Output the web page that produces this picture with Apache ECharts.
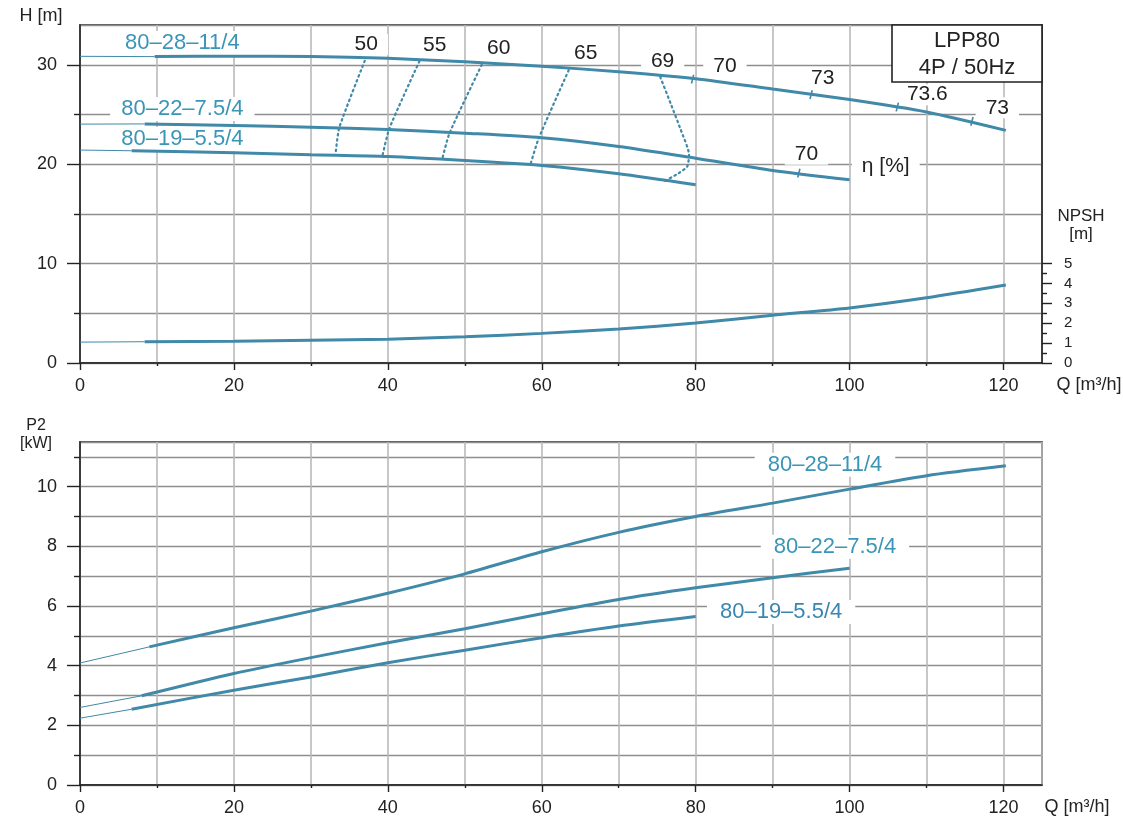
<!DOCTYPE html>
<html><head><meta charset="utf-8">
<script src="https://cdn.jsdelivr.net/npm/echarts@6/dist/echarts.min.js"></script>
<style>html,body{margin:0;padding:0;background:#fff}#c{width:1123px;height:822px}</style>
</head><body><div id="c"></div>
<script>
// ---------------- DATA ----------------
const MODELS = ['80–28–11/4', '80–22–7.5/4', '80–19–5.5/4'];
// Head curves H [m] vs Q [m3/h]  (first segment = thin extension)
const H28_Q = [0, 9.7, 20, 30, 40, 50, 60, 70, 80, 90, 100, 110, 120.3];
const H28   = [30.85, 30.82, 30.86, 30.83, 30.65, 30.3, 29.85, 29.3, 28.6, 27.56, 26.5, 25.25, 23.4];
const H22_Q = [0, 8.4, 20, 30, 40, 50, 60, 70, 80, 90, 100];
const H22   = [24.03, 24.05, 23.9, 23.72, 23.5, 23.12, 22.66, 21.78, 20.6, 19.37, 18.43];
const H19_Q = [0, 6.7, 20, 30, 40, 50, 60, 70, 80];
const H19   = [21.42, 21.35, 21.15, 20.95, 20.77, 20.37, 19.87, 19.03, 17.93];
// NPSH [m]
const NPSH_Q = [0, 8.4, 20, 30, 40, 50, 60, 70, 80, 90, 100, 110, 120.3];
const NPSH   = [1.05, 1.07, 1.1, 1.14, 1.2, 1.32, 1.49, 1.71, 2.01, 2.4, 2.77, 3.28, 3.92];
// Power P2 [kW]
const P28_Q = [0, 9.0, 20, 30, 40, 50, 60, 70, 80, 90, 100, 110, 120.3];
const P28   = [4.09, 4.63, 5.27, 5.83, 6.43, 7.08, 7.82, 8.47, 9.0, 9.45, 9.92, 10.37, 10.70];
const P22_Q = [0, 8.0, 20, 30, 40, 50, 60, 70, 80, 90, 100];
const P22   = [2.6, 2.99, 3.74, 4.27, 4.77, 5.24, 5.74, 6.22, 6.61, 6.95, 7.27];
const P19_Q = [0, 6.7, 20, 30, 40, 50, 60, 70, 80];
const P19   = [2.24, 2.54, 3.18, 3.62, 4.1, 4.52, 4.94, 5.33, 5.65];
// Efficiency iso-lines [Q, H]
const ETA50 = [[37.0, 30.4], [33.7, 23.7], [33.2, 21.0]];
const ETA55 = [[44.1, 30.35], [40.2, 23.6], [39.3, 20.85]];
const ETA60 = [[52.2, 30.0], [48.0, 23.1], [47.1, 20.6]];
const ETA65 = [[63.5, 29.45], [59.6, 22.6], [58.5, 19.9]];
const ETA69 = [[75.4, 28.77], [76.8, 26.0], [78.06, 23.46], [79.14, 20.95], [78.9, 19.77], [77.8, 19.1], [75.9, 18.26]];
// Efficiency marks on curves [Q, H]
const ETA_MARKS = [[79.6, 28.55], [95.0, 27.0], [106.2, 25.75], [115.9, 24.3], [93.4, 19.1]];
const ETA_TEXT = ['50', '55', '60', '65', '69', '70', '73', '73.6', '73', '70', 'η [%]'];
// Tick labels
const Q_TICKS = [0, 20, 40, 60, 80, 100, 120];
const Q_MINOR = [10, 30, 50, 70, 90, 110];
const H_TICKS = [0, 10, 20, 30];
const H_MINOR = [5, 15, 25];
const NPSH_TICKS = [0, 1, 2, 3, 4, 5];
const NPSH_MINOR = [0.5, 1.5, 2.5, 3.5, 4.5];
const P_TICKS = [0, 2, 4, 6, 8, 10];
const P_MINOR = [1, 3, 5, 7, 9, 11];

// ---------------- STYLE ----------------
const FONT = 'Liberation Sans';
const LINE = '#4089a8';
const TEAL_TXT = '#3a95b6';
const TXT = '#222';
const QMAX = 125, HMAX = 34, PMAX = 11.5;

function gridX(gi) {
  return { type: 'value', gridIndex: gi, position: 'bottom', min: 0, max: QMAX, interval: 10,
    axisLine: { show: false }, axisTick: { show: false }, axisLabel: { show: false },
    splitLine: { show: true, lineStyle: { color: '#b9b9b9', width: 1.6 } } };
}
function gridY(gi, max, step) {
  return { type: 'value', gridIndex: gi, position: 'left', min: 0, max: max, interval: step,
    axisLine: { show: false }, axisTick: { show: false }, axisLabel: { show: false },
    splitLine: { show: true, lineStyle: { color: '#8e8e8e', width: 1.3 } } };
}
function tickAxis(pos, gi, max, vals, len, labels, margin, size) {
  return { type: 'value', gridIndex: gi, position: pos, offset: 0, min: 0, max: max,
    axisLine: { show: !!labels, onZero: false, lineStyle: { color: '#222', width: 1.6 } },
    axisTick: { show: true, customValues: vals, length: len, lineStyle: { color: '#222', width: 1.4 } },
    axisLabel: labels ? { show: true, customValues: labels, margin: margin, fontFamily: FONT, fontSize: size || 18, color: TXT } : { show: false },
    splitLine: { show: false } };
}

const xAxis = [
  gridX(0),
  tickAxis('bottom', 0, QMAX, Q_TICKS, 7, Q_TICKS, 14),
  tickAxis('bottom', 0, QMAX, Q_MINOR, 3, null),
  gridX(1),
  tickAxis('bottom', 1, QMAX, Q_TICKS, 7, Q_TICKS, 14),
  tickAxis('bottom', 1, QMAX, Q_MINOR, 3, null)
];
const yAxis = [
  gridY(0, HMAX, 5),                                          // 0
  tickAxis('left', 0, HMAX, H_TICKS, 13, H_TICKS, 23),        // 1
  tickAxis('left', 0, HMAX, H_MINOR, 6, null),                // 2
  tickAxis('right', 0, HMAX / 2, NPSH_TICKS, 10, NPSH_TICKS, 22, 15), // 3
  tickAxis('right', 0, HMAX / 2, NPSH_MINOR, 5, null),        // 4
  gridY(1, PMAX, 1),                                          // 5
  tickAxis('left', 1, PMAX, P_TICKS, 13, P_TICKS, 23),        // 6
  tickAxis('left', 1, PMAX, P_MINOR, 6, null)                 // 7
];

function zip(q, v) { return q.map((x, i) => [x, v[i]]); }
function curve(q, v, xi, yi) {
  const pts = zip(q, v);
  return [
    { type: 'line', xAxisIndex: xi, yAxisIndex: yi, data: pts.slice(0, 2), symbol: 'none', silent: true, z: 4,
      lineStyle: { color: LINE, width: 1 } },
    { type: 'line', xAxisIndex: xi, yAxisIndex: yi, data: pts.slice(1), symbol: 'none', silent: true, z: 4, smooth: 0.25,
      lineStyle: { color: LINE, width: 3 } }
  ];
}
function dotted(pts) {
  return { type: 'line', xAxisIndex: 0, yAxisIndex: 0, data: pts, symbol: 'none', silent: true, z: 3, smooth: 0.2,
    lineStyle: { color: LINE, width: 2.2, type: [1.6, 3.6], cap: 'round' } };
}
function textSeries(xi, yi, items, color, size, pad) {
  return { type: 'scatter', xAxisIndex: xi, yAxisIndex: yi, symbolSize: 0, silent: true, z: 2,
    itemStyle: { opacity: 1 },
    data: items.map(it => ({ value: it[1], name: it[0] })),
    label: { show: true, position: 'inside', formatter: '{b}', fontFamily: FONT, fontSize: size, opacity: 1,
      color: color, backgroundColor: '#fff', padding: pad } };
}

// annotation anchors (data coordinates)
const etaAnchors = [[37.2, 32.04], [46.1, 31.97], [54.4, 31.65], [65.7, 31.2], [75.7, 30.4], [83.8, 29.9],
  [96.5, 28.67], [110.1, 26.99], [119.2, 25.68], [94.4, 21.0], [104.7, 19.84]];

const series = [
  textSeries(0, 0, [[MODELS[0], [13.3, 32.2]], [MODELS[1], [13.3, 25.56]], [MODELS[2], [13.3, 22.54]]], TEAL_TXT, 22, [1, 11]),
  textSeries(0, 0, ETA_TEXT.map((t, i) => [t, etaAnchors[i]]), TXT, 21, [0, 10]),
  textSeries(3, 5, [[MODELS[0], [96.8, 10.74]], [MODELS[1], [98.1, 7.99]]], TEAL_TXT, 22, [1, 13]),
  textSeries(3, 5, [[MODELS[2], [91.1, 5.8]]], '#3a86b0', 22, [1, 13]),
  ...curve(H28_Q, H28, 0, 0),
  ...curve(H22_Q, H22, 0, 0),
  ...curve(H19_Q, H19, 0, 0),
  ...curve(NPSH_Q, NPSH, 0, 3),
  ...curve(P28_Q, P28, 3, 5),
  ...curve(P22_Q, P22, 3, 5),
  ...curve(P19_Q, P19, 3, 5),
  dotted(ETA50), dotted(ETA55), dotted(ETA60), dotted(ETA65), dotted(ETA69),
  { type: 'scatter', xAxisIndex: 0, yAxisIndex: 0, data: ETA_MARKS, symbol: 'rect', symbolSize: [1.6, 9],
    symbolRotate: -14, silent: true, z: 5, itemStyle: { color: LINE, opacity: 1 } }
];

const txt = (x, y, s, size, align) => ({ type: 'text', x: x, y: y, silent: true, z: 10,
  style: { text: s, font: size + 'px "' + FONT + '"', fill: TXT, align: align || 'center', verticalAlign: 'middle' } });

const option = {
  animation: false,
  backgroundColor: '#fff',
  grid: [
    { left: 80, right: 81, top: 25, height: 338, show: true, borderColor: '#222', borderWidth: 1.6, backgroundColor: 'transparent' },
    { left: 80, right: 81, top: 442, height: 343, show: true, borderColor: '#222', borderWidth: 1.6, backgroundColor: 'transparent' }
  ],
  xAxis: xAxis,
  yAxis: yAxis,
  series: series,
  graphic: [
    txt(41, 16, 'H [m]', 18),
    txt(1089, 385, 'Q [m³/h]', 18),
    txt(1077, 807, 'Q [m³/h]', 18),
    txt(1081, 216, 'NPSH', 17),
    txt(1081, 234, '[m]', 17),
    txt(36, 426, 'P2', 16),
    txt(36, 444, '[kW]', 16),
    { type: 'rect', shape: { x: 892, y: 25, width: 150, height: 57 }, z: 9, silent: true,
      style: { fill: '#fff', stroke: '#222', lineWidth: 1.6 } },
    txt(967, 41, 'LPP80', 22),
    txt(967, 68, '4P / 50Hz', 22)
  ]
};
const chart = echarts.init(document.getElementById('c'), null, { renderer: 'canvas' });
chart.setOption(option);
</script></body></html>
